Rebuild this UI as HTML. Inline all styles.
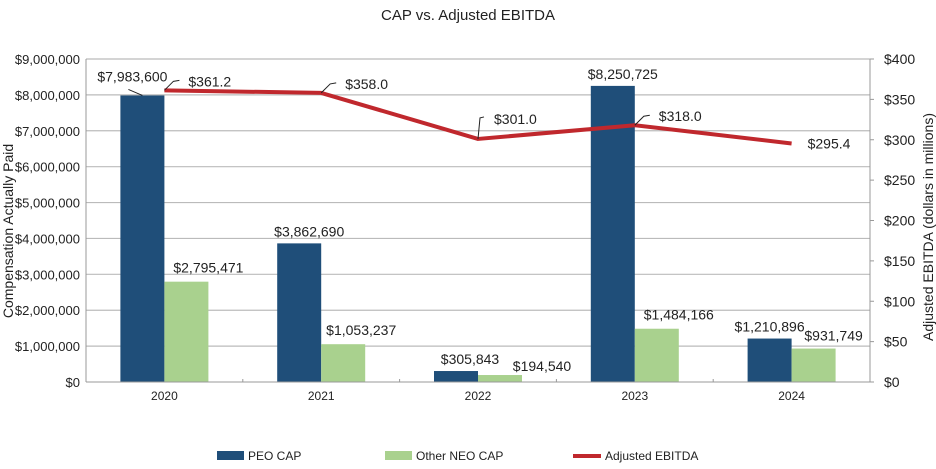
<!DOCTYPE html>
<html><head><meta charset="utf-8"><style>
body{margin:0;background:#fff;}
svg text{font-family:"Liberation Sans",Arial,sans-serif;fill:#222;}
</style></head><body>
<svg width="936" height="464" viewBox="0 0 936 464" xmlns="http://www.w3.org/2000/svg">
<text x="468" y="20" font-size="15" text-anchor="middle">CAP vs. Adjusted EBITDA</text>
<g id="grid"></g><g id="bars"></g><g id="line"></g><g id="labels"></g><g id="axes"></g>
<text transform="translate(13,231) rotate(-90)" font-size="14" text-anchor="middle">Compensation Actually Paid</text>
<text transform="translate(933,227) rotate(-90)" font-size="14" text-anchor="middle">Adjusted EBITDA (dollars in millions)</text>
<g>
<rect x="217" y="451" width="27" height="9" fill="#1f4e79"/>
<text x="248" y="460" font-size="12">PEO CAP</text>
<rect x="385" y="451" width="27" height="9" fill="#a9d18e"/>
<text x="416" y="460" font-size="12">Other NEO CAP</text>
<rect x="573" y="454" width="28" height="4" fill="#c0282d"/>
<text x="605" y="460" font-size="12">Adjusted EBITDA</text>
</g>
</svg>
<script>
const categories=["2020","2021","2022","2023","2024"];
const peoCap=[7983600,3862690,305843,8250725,1210896];
const neoCap=[2795471,1053237,194540,1484166,931749];
const ebitda=[361.2,358.0,301.0,318.0,295.4];
const leftTicks=[0,1000000,2000000,3000000,4000000,5000000,6000000,7000000,8000000,9000000];
const rightTicks=[0,50,100,150,200,250,300,350,400];
const NS="http://www.w3.org/2000/svg";
const X0=86,X1=870,Y0=382,Y1=59;
const bw=(X1-X0)/categories.length;
const yL=v=>Y0-(v/9000000)*(Y0-Y1);
const yR=v=>Y0-(v/400)*(Y0-Y1);
const cx=i=>X0+bw*(i+0.5);
const fmt=v=>"$"+v.toLocaleString("en-US");
function mk(tag,attrs,parent,txt){const e=document.createElementNS(NS,tag);for(const k in attrs)e.setAttribute(k,attrs[k]);if(txt!==undefined)e.textContent=txt;document.getElementById(parent).appendChild(e);return e;}
leftTicks.forEach(t=>{
 if(t>0){const g=mk("line",{x1:X0,x2:X1,y1:yL(t),y2:yL(t),stroke:"#bbb","stroke-width":1.2},"grid");
 
 }
 const l=mk("text",{x:X0-6,y:yL(t)+5,"font-size":13,"text-anchor":"end"},"axes",fmt(t));
 
 
});
rightTicks.forEach(t=>{
 const l=mk("text",{x:X1+14,y:yR(t)+5,"font-size":14},"axes","$"+t);
 
 
 mk("line",{x1:X1,x2:X1+4,y1:yR(t),y2:yR(t),stroke:"#999"},"axes");
});
mk("line",{x1:X0,x2:X0,y1:Y1,y2:Y0,stroke:"#999"},"axes");
mk("line",{x1:X1,x2:X1,y1:Y1,y2:Y0,stroke:"#999"},"axes");
mk("line",{x1:X0,x2:X1,y1:Y0,y2:Y0,stroke:"#999"},"axes");
const barW=44;
const peoDx=[-32,-12,-8,-12,-22];
const neoDx=[44,40,64,44,42];
categories.forEach((c,i)=>{
 const x=cx(i);
 const b1=mk("rect",{x:x-barW,y:yL(peoCap[i]),width:barW,height:Y0-yL(peoCap[i]),fill:"#1f4e79"},"bars");
 
 
 const b2=mk("rect",{x:x,y:yL(neoCap[i]),width:barW,height:Y0-yL(neoCap[i]),fill:"#a9d18e"},"bars");
 
 
 const xl=mk("text",{x:x,y:Y0+18,"font-size":12,"text-anchor":"middle"},"axes",c);
 
 
 if(i<categories.length-1)mk("line",{x1:X0+bw*(i+1),x2:X0+bw*(i+1),y1:Y0,y2:Y0-3,stroke:"#999"},"axes");
 let py=yL(peoCap[i])-7;
 if(i===0){py=yL(peoCap[i])-14;mk("line",{x1:x-22,y1:yL(peoCap[i]),x2:x-36,y2:yL(peoCap[i])-6,stroke:"#222"},"labels");}
 const l1=mk("text",{x:x+peoDx[i],y:py,"font-size":14,"text-anchor":"middle"},"labels",fmt(peoCap[i]));
 
 
 let ny=yL(neoCap[i])-9;
 if(i===2)ny=yL(neoCap[i])-4;
 if(i===4)ny=yL(neoCap[i])-8;
 const l2=mk("text",{x:x+neoDx[i],y:ny,"font-size":14,"text-anchor":"middle"},"labels",fmt(neoCap[i]));
 
 
});
const pts=ebitda.map((v,i)=>cx(i)+","+yR(v)).join(" ");
const pl=mk("polyline",{points:pts,fill:"none",stroke:"#c0282d","stroke-width":4,"stroke-linejoin":"round"},"line");


ebitda.forEach((v,i)=>{
 const x=cx(i),y=yR(v);
 let tx,ty;
 if(i===categories.length-1){tx=x+16;ty=y+5;}
 else if(i===2){mk("polyline",{points:`${x},${y} ${x+2},${y-21} ${x+6},${y-22}`,fill:"none",stroke:"#222"},"labels");tx=x+16;ty=y-15;}
 else{mk("polyline",{points:`${x},${y} ${x+9},${y-9} ${x+15},${y-10}`,fill:"none",stroke:"#222"},"labels");tx=x+24;ty=y-4;}
 const l=mk("text",{x:tx,y:ty,"font-size":14},"labels","$"+v.toFixed(1));
 
 
});
</script>
</body></html>
